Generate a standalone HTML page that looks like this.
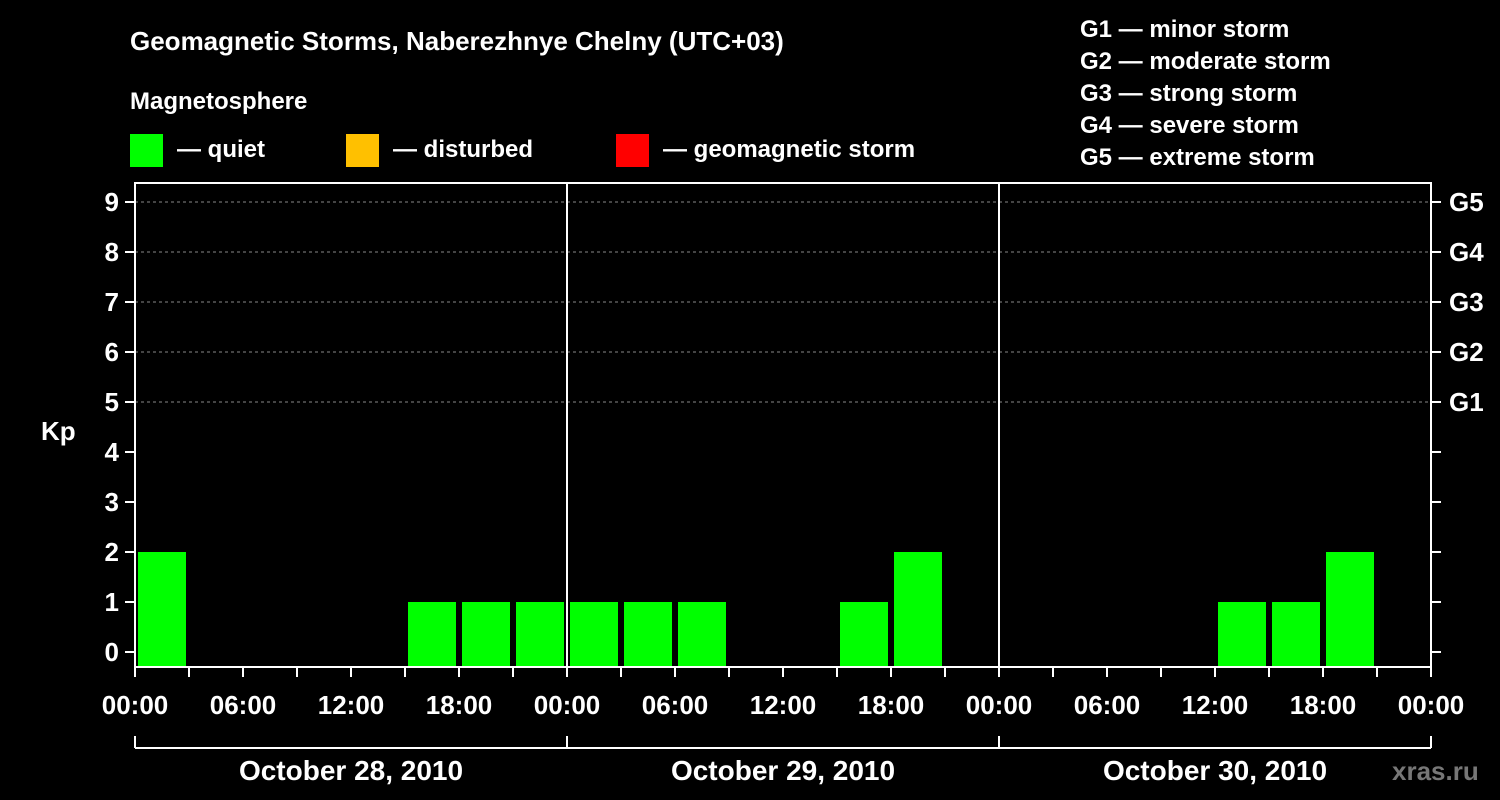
<!DOCTYPE html>
<html><head><meta charset="utf-8"><style>
html,body{margin:0;padding:0;background:#000;}
svg{display:block;font-family:"Liberation Sans",Arial,sans-serif;font-weight:bold;}
</style></head><body>
<svg id="c" width="1500" height="800" viewBox="0 0 1500 800">
<rect width="1500" height="800" fill="#000"/>
<text x="130" y="50" fill="#fff" font-size="26">Geomagnetic Storms, Naberezhnye Chelny (UTC+03)</text>
<text x="130" y="109" fill="#fff" font-size="24">Magnetosphere</text>
<g><rect x="130" y="134" width="33" height="33" fill="#00ff00"/><text x="177" y="157" fill="#fff" font-size="24">— quiet</text></g>
<g><rect x="346" y="134" width="33" height="33" fill="#ffc000"/><text x="393" y="157" fill="#fff" font-size="24">— disturbed</text></g>
<g><rect x="616" y="134" width="33" height="33" fill="#ff0000"/><text x="663" y="157" fill="#fff" font-size="24">— geomagnetic storm</text></g>
<g fill="#fff" font-size="24">
<text x="1080" y="37">G1 — minor storm</text>
<text x="1080" y="69">G2 — moderate storm</text>
<text x="1080" y="101">G3 — strong storm</text>
<text x="1080" y="133">G4 — severe storm</text>
<text x="1080" y="165">G5 — extreme storm</text>
</g>
<text x="1392" y="780" fill="#777" font-size="26">xras.ru</text>
<text x="41" y="440" fill="#fff" font-size="26">Kp</text>
<g id="plot"></g>
</svg>
<script>
const days = ["October 28, 2010","October 29, 2010","October 30, 2010"];
const kpValues = [2,null,null,null,null,1,1,1, 1,1,1,null,null,1,2,null, null,null,null,null,1,1,2,null];
const yTicks = [0,1,2,3,4,5,6,7,8,9];
const gLabels = ["G1","G2","G3","G4","G5"];
const hourLabels = ["00:00","06:00","12:00","18:00"];

const X0=135, DAYW=432, TOP=183, BOT=667;
const xh = h => X0 + h*DAYW/24;
const y = v => 652 - v*50;
const ns="http://www.w3.org/2000/svg";
const g=document.getElementById('plot');
function mk(t,a,txt){const e=document.createElementNS(ns,t);for(const k in a)e.setAttribute(k,a[k]);if(txt!==undefined)e.textContent=txt;g.appendChild(e);return e;}
const XR = xh(days.length*24);

// grid lines
yTicks.filter(v=>v>=5).forEach(v=>{
 const l=mk('line',{x1:X0,x2:XR,y1:y(v),y2:y(v),stroke:'#888','stroke-dasharray':'3,3','stroke-width':1});
 
 
});
// bars
kpValues.forEach((v,i)=>{
 if(v===null)return;
 const c = v>=5?'#ff0000':(v>=4?'#ffc000':'#00ff00');
 const r=mk('rect',{x:xh(i*3)+3,y:y(v),width:48,height:BOT-y(v),fill:c});
 
 
});
// frame
const f=mk('rect',{x:X0,y:TOP,width:XR-X0,height:BOT-TOP,fill:'none',stroke:'#fff','stroke-width':2});


// day separators
for(let d=1;d<days.length;d++){
 const l=mk('line',{x1:xh(d*24),x2:xh(d*24),y1:TOP,y2:BOT,stroke:'#fff','stroke-width':2});
 
 
}
// y ticks
yTicks.forEach(v=>{
 mk('line',{x1:X0-10,x2:X0,y1:y(v),y2:y(v),stroke:'#fff','stroke-width':2});
 mk('line',{x1:XR,x2:XR+10,y1:y(v),y2:y(v),stroke:'#fff','stroke-width':2});
 const t=mk('text',{x:X0-16,y:y(v)+9,fill:'#fff','font-size':26,'text-anchor':'end'},String(v));
 
 
});
gLabels.forEach((s,i)=>{
 const t=mk('text',{x:XR+18,y:y(5+i)+9,fill:'#fff','font-size':26},s);
 
 
});
// x ticks
for(let h=0;h<=days.length*24;h+=3){
 mk('line',{x1:xh(h),x2:xh(h),y1:BOT,y2:BOT+10,stroke:'#fff','stroke-width':2});
}
for(let h=0;h<=days.length*24;h+=6){
 const t=mk('text',{x:xh(h),y:714,fill:'#fff','font-size':26,'text-anchor':'middle'},hourLabels[(h/6)%4]);
 
 
}
// date bracket
mk('line',{x1:X0,x2:XR,y1:748,y2:748,stroke:'#fff','stroke-width':2});
for(let d=0;d<=days.length;d++) mk('line',{x1:xh(d*24),x2:xh(d*24),y1:736,y2:748,stroke:'#fff','stroke-width':2});
days.forEach((s,d)=>{
 const t=mk('text',{x:xh(d*24+12),y:780,fill:'#fff','font-size':28,'text-anchor':'middle'},s);
 
 
});
</script>
</body></html>
